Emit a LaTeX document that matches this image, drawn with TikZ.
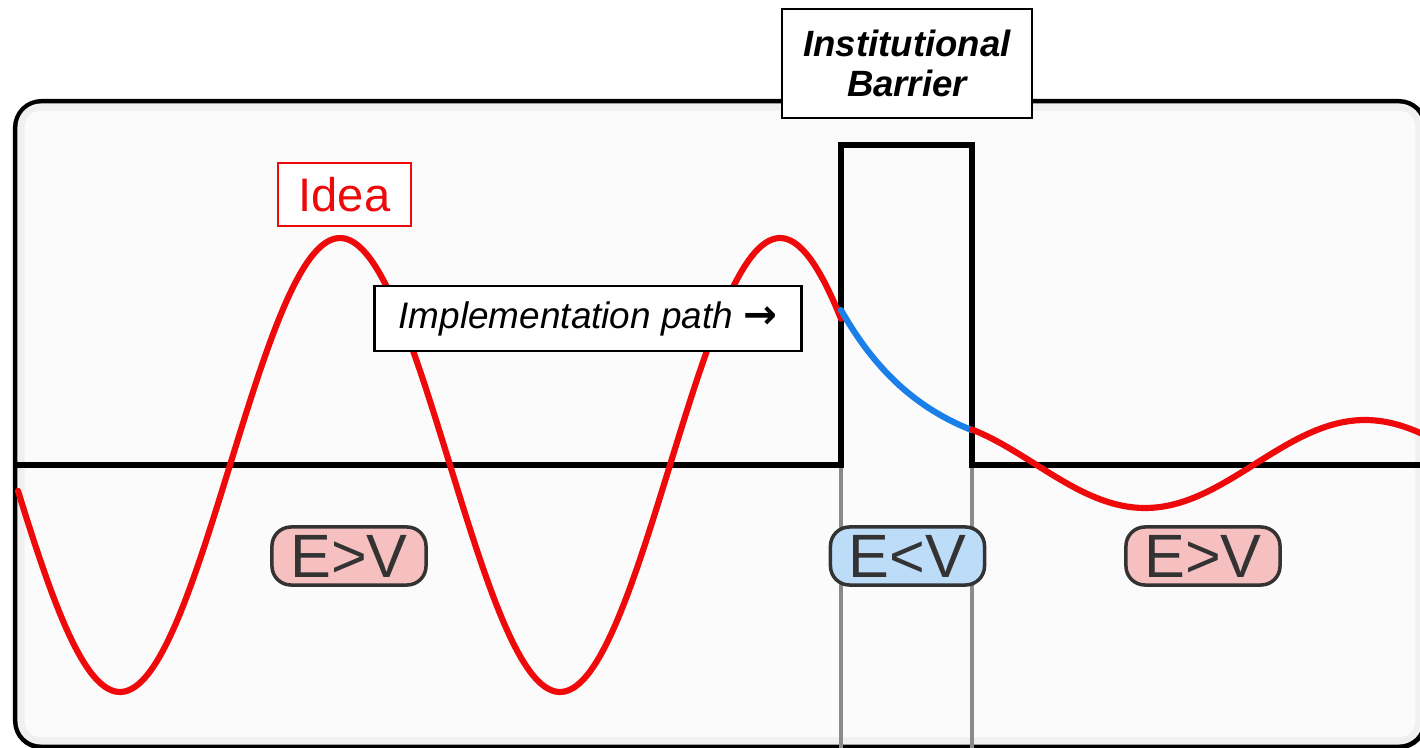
\documentclass[tikz,border=0pt]{standalone}
\usepackage{fontspec}
\setmainfont{Liberation Sans}
\newfontfamily\arrowfont{DejaVu Sans}
\definecolor{wavered}{HTML}{EE0A0A}
\definecolor{waveblue}{HTML}{1A7FE8}
\definecolor{pillpink}{HTML}{F7C0C0}
\definecolor{pillblue}{HTML}{BDDCF8}
\definecolor{pilledge}{HTML}{333333}
\definecolor{framegray}{HTML}{FBFBFB}
\definecolor{wallgray}{HTML}{8A8A8A}

\begin{document}
\begin{tikzpicture}[x=0.01cm,y=-0.01cm,
  statebox/.style={draw=pilledge, line width=1pt, rounded corners=0.19cm,
    minimum width=1.54cm, minimum height=0.58cm, inner sep=0pt, text=pilledge,
    font=\fontsize{17.4}{20}\selectfont},
  labelbox/.style={draw, fill=white, inner sep=0pt, align=center},
  wave/.style={line width=1.75pt, line cap=round}]
\useasboundingbox (0,0) rectangle (1420,748);
% frame
\draw[line width=2pt, fill=framegray, rounded corners=0.25cm] (16.5,102.5) rectangle (1424,746);
\draw[gray!12, line width=2pt, rounded corners=0.2cm] (21,107) rectangle (1419,741);
% potential with barrier
\draw[wallgray, line width=1.1pt] (841,465) -- (841,748);
\draw[wallgray, line width=1.1pt] (972,465) -- (972,748);
\draw[line width=1.6pt, line join=miter] (17,465) -- (841,465) -- (841,145) -- (972,145) -- (972,465) -- (1424,465);
% wave
\draw[wave, wavered] plot[domain=18:841, samples=240] (\x, {465-227*sin(360*((\x-230)/440))});
\draw[wave, waveblue] plot[domain=841:972, samples=60] (\x, {465-155*exp(-0.0114*(\x-841))});
\draw[wave, wavered] plot[domain=972:1422, samples=120] (\x, {464-44*sin(360*((\x-1255)/440))});
% labels
\node[labelbox, line width=0.6pt, minimum width=2.5cm, minimum height=1.09cm,
  font=\bfseries\itshape\fontsize{10.4}{11.4}\selectfont] (barrier) at (907,63.5) {Institutional\\Barrier};
\node[labelbox, draw=wavered, line width=0.6pt, minimum width=1.33cm, minimum height=0.63cm,
  text=wavered, font=\fontsize{13.4}{15}\selectfont] (idea) at (344.5,194.5) {Idea};
\node[labelbox, line width=0.8pt, minimum width=4.26cm, minimum height=0.65cm,
  font=\fontsize{10.5}{12}\selectfont] (path) at (588,318.5) {\itshape Implementation path {\arrowfont\bfseries\fontsize{11.5}{12}\selectfont →}};
\node[statebox, fill=pillpink] (left) at (349,556) {E>V};
\node[statebox, fill=pillblue] (mid) at (907.5,556) {E<V};
\node[statebox, fill=pillpink] (right) at (1203,556) {E>V};
\end{tikzpicture}
\end{document}
